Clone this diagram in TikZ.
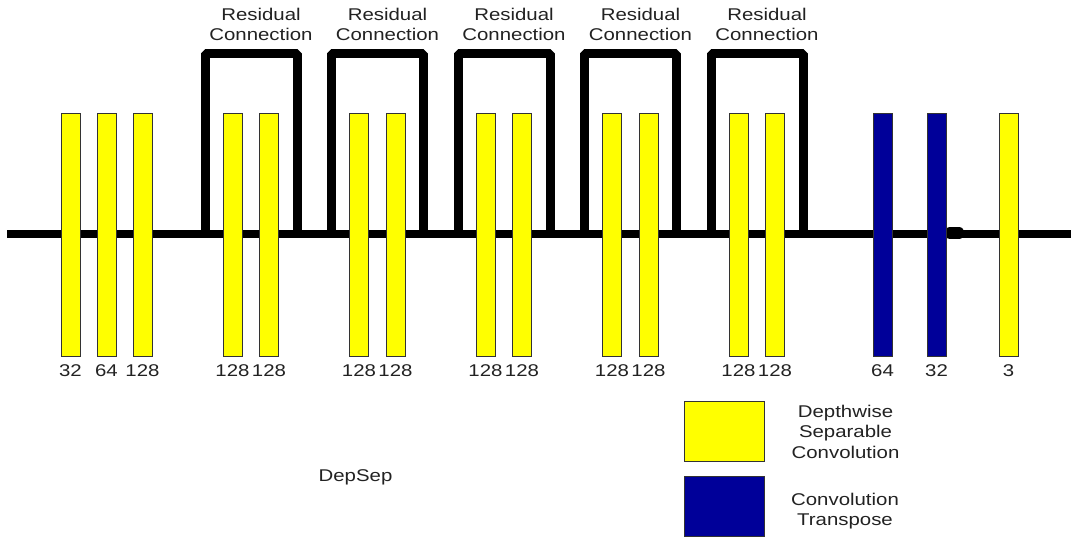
\documentclass[tikz,border=0pt]{standalone}
\usepackage{fontspec}
\setmainfont[FakeStretch=1.2]{Liberation Sans}
\definecolor{ybar}{HTML}{FFFF00}
\definecolor{bbar}{HTML}{000099}
\definecolor{txt}{HTML}{222222}
\begin{document}
\begin{tikzpicture}[x=1pt,y=-1pt,
  yconv/.style={draw=black!80,line width=1pt,fill=ybar,minimum width=19pt,minimum height=242pt,inner sep=0pt},
  bconv/.style={draw=black!80,line width=1pt,fill=bbar,minimum width=19pt,minimum height=242pt,inner sep=0pt},
  lbl/.style={text=txt,font=\fontsize{17}{20.5}\selectfont,inner sep=0pt},
  mainline/.style={line width=8pt},
  resid/.style={line width=9pt,line join=bevel},
  legbox/.style={draw=black!80,line width=1pt,minimum width=80pt,minimum height=60pt,inner sep=0pt}]
\useasboundingbox (0,0) rectangle (1076,540);
\coordinate (start) at (7,234);
\coordinate (end) at (1071,234);
\draw[mainline] (start) -- (end);
% residual brackets
\foreach \k in {0,...,4}{
  \pgfmathsetmacro{\bx}{232.5+126.5*\k}
  \coordinate (rl\k) at (\bx-27.5,234);
  \coordinate (rr\k) at (\bx+64.5,234);
  \draw[resid] (rl\k) |- (\bx+18,54) -| (rr\k);
  \node[lbl,align=center] (rt\k) at (\bx+28.5,24.5) {Residual\\Connection};
}
% first bars
\node[yconv] (c1) at (70.5,235) {};
\node[yconv] (c2) at (106.5,235) {};
\node[yconv] (c3) at (142.5,235) {};
\node[lbl] at (70.5,371) {32};
\node[lbl] at (106.5,371) {64};
\node[lbl] at (142.5,371) {128};
\foreach \k in {0,...,4}{
  \pgfmathsetmacro{\bx}{232.5+126.5*\k}
  \node[yconv] (ra\k) at (\bx,235) {};
  \node[yconv] (rb\k) at (\bx+36.5,235) {};
  \node[lbl] at (\bx,371) {128};
  \node[lbl] at (\bx+36.5,371) {128};
}
\coordinate (blobA) at (950,233);
\coordinate (blobB) at (959,233);
\draw[line width=11pt,line cap=round] (blobA) -- (blobB);
\node[bconv] (t1) at (882.5,235) {};
\node[bconv] (t2) at (936.5,235) {};
\node[yconv] (out) at (1008.5,235) {};
\node[lbl] at (882.5,371) {64};
\node[lbl] at (936.5,371) {32};
\node[lbl] at (1008.5,371) {3};
\node[lbl] (name) at (355.5,477) {DepSep};
% legend
\node[legbox,fill=ybar] (ly) at (724,431) {};
\node[legbox,fill=bbar] (lb) at (724,506) {};
\node[lbl,align=center] (lyt) at (845.5,431.5) {Depthwise\\Separable\\Convolution};
\node[lbl,align=center] (lbt) at (845,511) {Convolution\\Transpose};
\end{tikzpicture}
\end{document}
